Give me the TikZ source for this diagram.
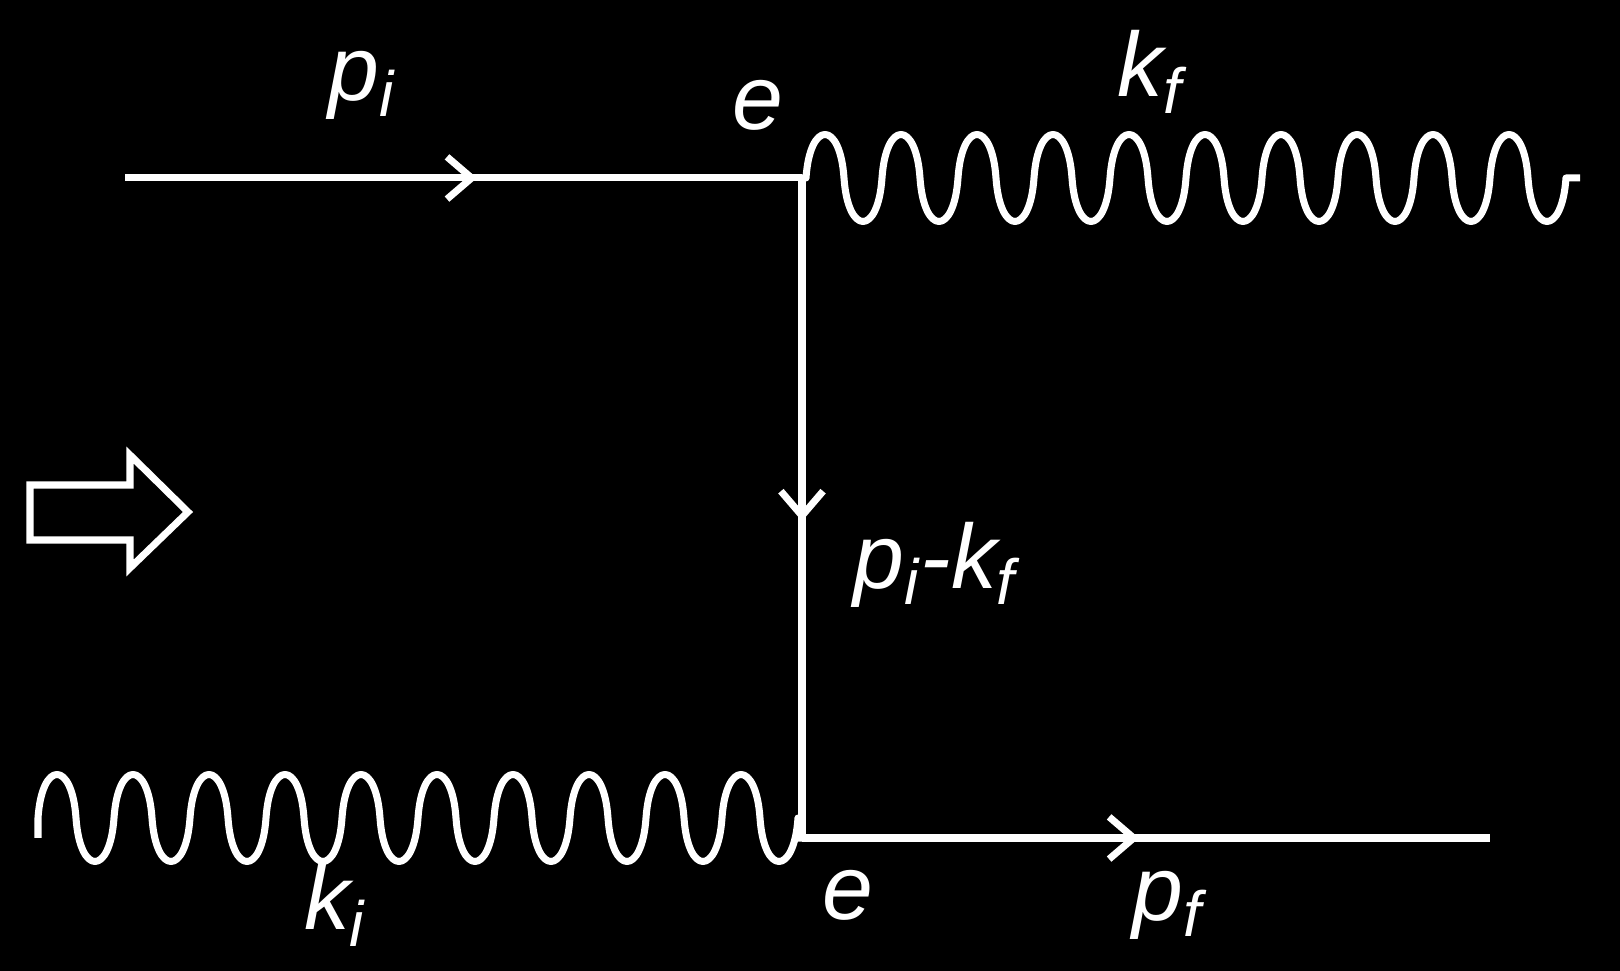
\documentclass[tikz,border=0pt]{standalone}
\usepackage{fontspec}
\setsansfont{Liberation Sans}
\usetikzlibrary{arrows.meta,decorations.markings}
\tikzset{
  line/.style={white, line width=2pt, overlay},
  fermion/.style={line, postaction={decorate}, decoration={markings,
      mark=at position #1 with {\arrow{Straight Barb[length=7pt,width=12pt,line width=2pt]}}}},
  lbl/.style={white, overlay, font=\fontsize{26}{30}\selectfont\sffamily\itshape}
}
% one period of the photon wiggle, starting upwards
\newcommand\wigglestep[1]{.. controls ++(4,-58) and ++(-4,-58) .. ++(#1/2,0) .. controls ++(4,58) and ++(-4,58) .. ++(#1/2,0)}
\begin{document}
\begin{tikzpicture}[x=0.01cm, y=-0.01cm]
	% background
	\fill[black] (0,0) rectangle (1620,971);
	% vertices and end points
	\coordinate (ein) at (125,178);
	\coordinate (vtop) at (802,178);
	\coordinate (vbot) at (802,838);
	\coordinate (eout) at (1490,838);
	\coordinate (gout) at (1580,178);
	\coordinate (gin) at (38,838);
	% electron lines
	\draw[fermion=0.52] (ein) -- (vtop);
	\draw[fermion=0.52] (vtop) -- (vbot);
	\draw[fermion=0.49] (vbot) -- (eout);
	% photons
	\draw[line, line join=round] (vtop) -- ++(4,0)
	  \wigglestep{76}\wigglestep{76}\wigglestep{76}\wigglestep{76}\wigglestep{76}
	  \wigglestep{76}\wigglestep{76}\wigglestep{76}\wigglestep{76}\wigglestep{76} -- (gout);
	\draw[line, line join=round] (gin) -- ++(0,-20)
	  \wigglestep{76}\wigglestep{76}\wigglestep{76}\wigglestep{76}\wigglestep{76}
	  \wigglestep{76}\wigglestep{76}\wigglestep{76}\wigglestep{76}\wigglestep{76} |- (vbot);
	% hollow arrow
	\draw[line] (30,485) -- (130,485) -- (130,455) -- (188,512) -- (130,568) -- (130,540) -- (30,540) -- cycle;
	% labels
	\node[lbl] (lpi) at (362,85) {p\textsubscript{i}};
	\node[lbl] (le1) at (758,105) {e};
	\node[lbl] (lkf) at (1150,72) {k\textsubscript{f}};
	\node[lbl] (lq) at (935,565) {p\textsubscript{i}-k\textsubscript{f}};
	\node[lbl] (lki) at (335,905) {k\textsubscript{i}};
	\node[lbl] (le2) at (848,895) {e};
	\node[lbl] (lpf) at (1168,905) {p\textsubscript{f}};
\end{tikzpicture}
\end{document}
